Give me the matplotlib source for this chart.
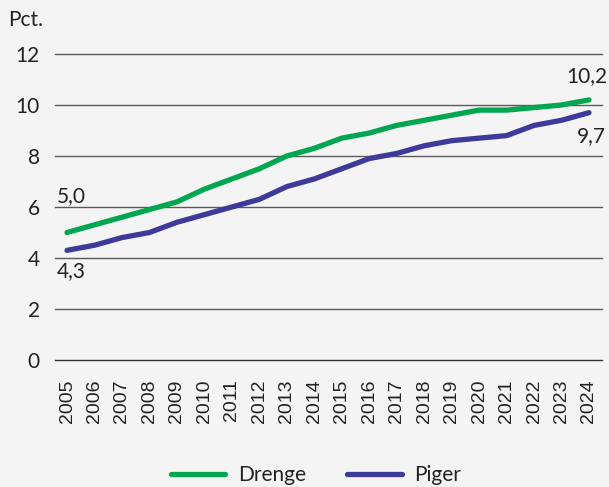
import matplotlib
matplotlib.use("Agg")
import matplotlib.pyplot as plt
from matplotlib.lines import Line2D

years = list(range(2005, 2025))
drenge = [5.0, 5.3, 5.6, 5.9, 6.2, 6.7, 7.1, 7.5, 8.0, 8.3, 8.7, 8.9, 9.2, 9.4, 9.6, 9.8, 9.8, 9.9, 10.0, 10.2]
piger = [4.3, 4.5, 4.8, 5.0, 5.4, 5.7, 6.0, 6.3, 6.8, 7.1, 7.5, 7.9, 8.1, 8.4, 8.6, 8.7, 8.8, 9.2, 9.4, 9.7]
yticks = [0, 2, 4, 6, 8, 10, 12]
series_names = ["Drenge", "Piger"]

bg = "#f4f4f4"
green = "#00a650"
purple = "#3d3a9a"
textc = "#222222"
fs = 15

fig = plt.figure(figsize=(6.09, 4.87), dpi=100, facecolor=bg)
W, H = 609, 487
ax = fig.add_axes([55 / W, 1 - 360 / H, (602 - 55) / W, (360 - 54) / H], facecolor=bg)

ax.set_ylim(0, 12)
ax.set_xlim(2005 - 12 / 27.47, 2024 + 13 / 27.47)
for v in yticks:
    ax.axhline(v, color="#333333" if v == 0 else "#5a5a5a", lw=1.0, zorder=1, clip_on=False)

ax.plot(years, drenge, color=green, lw=3.8, solid_capstyle="round", zorder=3, clip_on=False)
ax.plot(years, piger, color=purple, lw=3.8, solid_capstyle="round", zorder=3, clip_on=False)

for s in ax.spines.values():
    s.set_visible(False)
ax.set_yticks(yticks)
ax.set_yticklabels([str(v) for v in yticks], family="Lato", fontsize=fs, color=textc)
ax.tick_params(axis="y", length=0, pad=11)
ax.set_xticks(years)
ax.set_xticklabels([str(y) for y in years], rotation=90, family="Liberation Sans",
                   fontsize=14, color=textc)
ax.tick_params(axis="x", length=0, pad=14)

def fmt(v):
    return f"{v:.1f}".replace(".", ",")

ax.annotate(fmt(drenge[0]), (years[0], drenge[0]), xytext=(-7, 19), textcoords="offset points",
            ha="left", va="bottom", family="Lato", fontsize=fs, color=textc)
ax.annotate(fmt(piger[0]), (years[0], piger[0]), xytext=(-7, -8), textcoords="offset points",
            ha="left", va="top", family="Lato", fontsize=fs, color=textc)
ax.annotate(fmt(drenge[-1]), (years[-1], drenge[-1]), xytext=(13, 10), textcoords="offset points",
            ha="right", va="bottom", family="Lato", fontsize=fs, color=textc)
ax.annotate(fmt(piger[-1]), (years[-1], piger[-1]), xytext=(12, -10), textcoords="offset points",
            ha="right", va="top", family="Lato", fontsize=fs, color=textc)

fig.text(8 / W, 1 - 20 / H, "Pct.", family="Lato", fontsize=fs, color=textc, va="center", ha="left")

handles = [Line2D([0], [0], color=green, lw=3.8, solid_capstyle="round"),
           Line2D([0], [0], color=purple, lw=3.8, solid_capstyle="round")]
leg = fig.legend(handles, series_names, loc="center", bbox_to_anchor=(316 / W, 1 - 475 / H),
                 ncol=2, frameon=False, prop={"family": "Lato", "size": fs},
                 handlelength=2.6, columnspacing=2.0, handletextpad=0.6)
for t in leg.get_texts():
    t.set_color(textc)

fig.savefig("out.png", dpi=100, facecolor=bg)
